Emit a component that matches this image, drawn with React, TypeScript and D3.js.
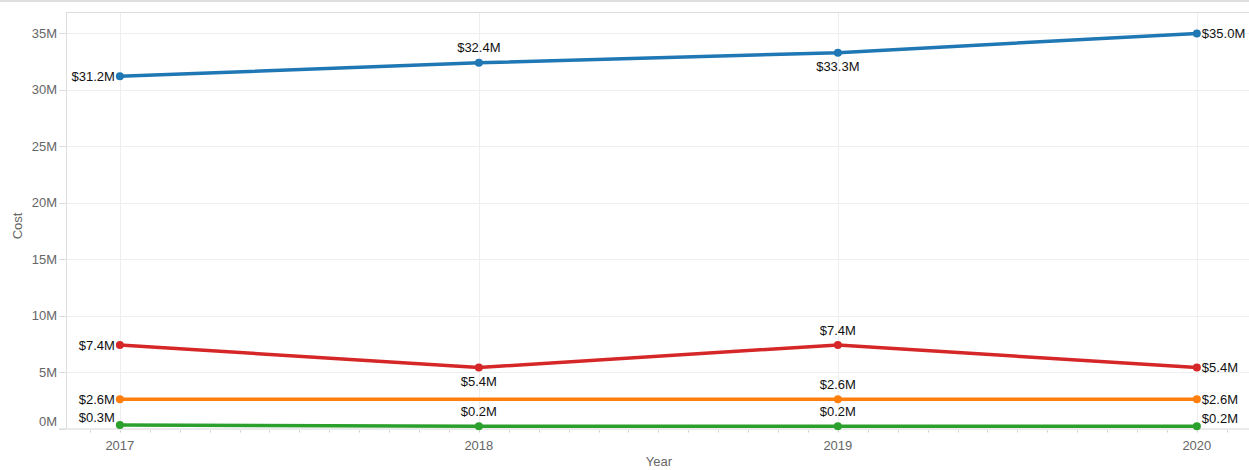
import React, { useEffect, useRef } from 'react';
import * as d3 from 'd3';

const years = [2017, 2018, 2019, 2020];
const yTicks = [0, 5, 10, 15, 20, 25, 30, 35];

// cost in millions
const blueCost = [31.2, 32.4, 33.3, 35.0];
const redCost = [7.4, 5.4, 7.4, 5.4];
const orangeCost = [2.6, 2.6, 2.6, 2.6];
const greenCost = [0.3, 0.2, 0.2, 0.2];

// where each label sits: l = left, r = right, a = above, b = below, n = none
const blueLabelPos = ['l', 'a', 'b', 'r'];
const redLabelPos = ['l', 'b', 'a', 'r'];
const orangeLabelPos = ['l', 'n', 'a', 'r'];
const greenLabelPos = ['lu', 'a', 'a', 'ru'];

const series = [
  { name: 'blue', color: '#1f77b4', values: blueCost, pos: blueLabelPos },
  { name: 'red', color: '#d62728', values: redCost, pos: redLabelPos },
  { name: 'orange', color: '#ff7f0e', values: orangeCost, pos: orangeLabelPos },
  { name: 'green', color: '#2ca02c', values: greenCost, pos: greenLabelPos },
];

export default function App() {
  const ref = useRef<SVGSVGElement>(null);

  useEffect(() => {
    const width = 1249;
    const height = 470;
    const left = 66;
    const top = 12;
    const bottom = 428.5;

    const svg = d3.select(ref.current);
    svg.selectAll('*').remove();
    svg.style('font-family', 'Arial, "Liberation Sans", sans-serif');

    const x = d3.scaleLinear().domain([2016.85, 2020.15]).range([left, left + 3.3 * 359]);
    const y = d3.scaleLinear().domain([0, 36.9]).range([bottom, top]);

    // page top rule
    svg.append('rect').attr('x', 0).attr('y', 0).attr('width', width).attr('height', 2).attr('fill', '#e0e0e0');

    // gridlines
    svg.append('g')
      .selectAll('line')
      .data(yTicks.filter(d => d > 0))
      .join('line')
      .attr('x1', left).attr('x2', width)
      .attr('y1', d => Math.round(y(d)) + 0.5).attr('y2', d => Math.round(y(d)) + 0.5)
      .attr('stroke', '#eeeeee');

    svg.append('g')
      .selectAll('line')
      .data(years)
      .join('line')
      .attr('x1', d => Math.round(x(d)) + 0.5).attr('x2', d => Math.round(x(d)) + 0.5)
      .attr('y1', top).attr('y2', bottom)
      .attr('stroke', '#eeeeee');

    // frame
    svg.append('line').attr('x1', left).attr('x2', width).attr('y1', top + 0.5).attr('y2', top + 0.5).attr('stroke', '#dddddd');
    svg.append('line').attr('x1', left + 0.5).attr('x2', left + 0.5).attr('y1', top).attr('y2', bottom).attr('stroke', '#dddddd');
    svg.append('line').attr('x1', 59).attr('x2', width).attr('y1', bottom + 0.5).attr('y2', bottom + 0.5).attr('stroke', '#d6d6d6');

    // y ticks
    const yAxis = svg.append('g');
    yAxis.selectAll('line')
      .data(yTicks)
      .join('line')
      .attr('x1', 59).attr('x2', left)
      .attr('y1', d => Math.round(y(d)) + 0.5).attr('y2', d => Math.round(y(d)) + 0.5)
      .attr('stroke', '#dddddd');
    yAxis.selectAll('text')
      .data(yTicks)
      .join('text')
      .attr('x', 57)
      .attr('y', d => (d === 0 ? y(d) - 7 : y(d)))
      .attr('dy', '0.35em')
      .attr('text-anchor', 'end')
      .attr('font-size', 13)
      .attr('fill', '#666666')
      .text(d => d + 'M');

    // x minor ticks (months)
    const months = d3.range(2016.9167, 2020.16, 1 / 12);
    svg.append('g')
      .selectAll('line')
      .data(months)
      .join('line')
      .attr('x1', d => Math.round(x(d)) + 0.5).attr('x2', d => Math.round(x(d)) + 0.5)
      .attr('y1', bottom + 2).attr('y2', bottom + 4)
      .attr('stroke', '#cccccc');

    svg.append('g')
      .selectAll('text')
      .data(years)
      .join('text')
      .attr('x', d => x(d))
      .attr('y', 445)
      .attr('dy', '0.35em')
      .attr('text-anchor', 'middle')
      .attr('font-size', 13)
      .attr('fill', '#666666')
      .text(d => d);

    // axis titles
    svg.append('text')
      .attr('transform', 'translate(17,226) rotate(-90)')
      .attr('dy', '0.35em')
      .attr('text-anchor', 'middle')
      .attr('font-size', 13)
      .attr('fill', '#666666')
      .text('Cost');
    svg.append('text')
      .attr('x', 659)
      .attr('y', 461)
      .attr('dy', '0.35em')
      .attr('text-anchor', 'middle')
      .attr('font-size', 13)
      .attr('fill', '#666666')
      .text('Year');

    const line = d3.line<number>()
      .x((d, i) => x(years[i]))
      .y(d => y(d));

    series.forEach(s => {
      const g = svg.append('g');
      g.append('path')
        .attr('d', line(s.values))
        .attr('fill', 'none')
        .attr('stroke', s.color)
        .attr('stroke-width', 3.5);

      g.selectAll('circle')
        .data(s.values.map((v, i) => ({ v, i, p: s.pos[i] })).filter(d => d.p !== 'n'))
        .join('circle')
        .attr('cx', d => x(years[d.i]))
        .attr('cy', d => y(d.v))
        .attr('r', 4)
        .attr('fill', s.color);

      g.selectAll('text')
        .data(s.values.map((v, i) => ({ v, i, p: s.pos[i] })).filter(d => d.p !== 'n'))
        .join('text')
        .attr('x', d => {
          const px = x(years[d.i]);
          if (d.p[0] === 'l') return px - 5;
          if (d.p[0] === 'r') return px + 5;
          return px;
        })
        .attr('y', d => {
          const py = y(d.v);
          if (d.p === 'a') return py - 15;
          if (d.p === 'b') return py + 14;
          if (d.p === 'lu' || d.p === 'ru') return py - 8;
          return py;
        })
        .attr('dy', '0.35em')
        .attr('text-anchor', d => (d.p[0] === 'l' ? 'end' : d.p[0] === 'r' ? 'start' : 'middle'))
        .attr('font-size', 13)
        .attr('fill', '#111111')
        .text(d => '$' + d.v.toFixed(1) + 'M');
    });
  }, []);

  return (
    <svg
      ref={ref}
      width={1249}
      height={470}
      style={{ position: 'absolute', left: 0, top: 0, background: '#ffffff' }}
    />
  );
}
